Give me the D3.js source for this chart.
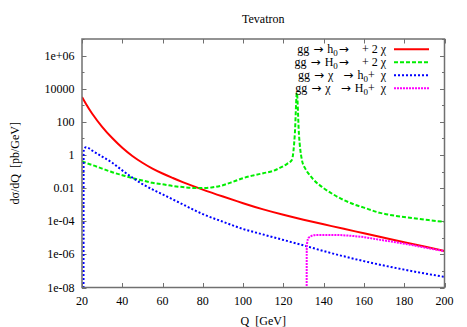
<!DOCTYPE html>
<html>
<head>
<meta charset="utf-8">
<script src="https://cdn.jsdelivr.net/npm/d3@7"></script>
<style>
  body { margin: 0; background: #fff; }
  svg { display: block; }
  text { font-family: "Liberation Serif", "Times New Roman", serif; font-size: 12px; fill: #000; white-space: pre; }
  .arr { font-family: "DejaVu Sans", sans-serif; font-size: 12px; }
</style>
</head>
<body>
<svg id="chart" width="467" height="327"></svg>
<script>
// ---------------- data ----------------
const title = "Tevatron";
const xLabel = "Q  [GeV]";
const yLabel = "dσ/dQ  [pb/GeV]";

const xTicks = [20, 40, 60, 80, 100, 120, 140, 160, 180, 200];
const yMajorTicks = [1e-8, 1e-6, 1e-4, 1e-2, 1, 1e2, 1e4, 1e6];
const yMajorLabels = ["1e-08", "1e-06", "1e-04", "0.01", "1", "100", "10000", "1e+06"];
const yMinorTicks = [1e-7, 1e-5, 1e-3, 1e-1, 1e1, 1e3, 1e5, 1e7];

// gg -> h0 -> + 2 chi
const redQ = [20, 22, 25, 30, 35, 40, 45, 50, 55, 60, 65, 70, 80, 90, 100, 110, 120, 130, 140, 150, 160, 170, 180, 190, 200];
const redV = [3.2e3, 1.2e3, 320, 50, 10.5, 2.7, 0.87, 0.34, 0.15, 0.076, 0.041, 0.023, 8.1e-3, 3.1e-3, 1.23e-3, 5.2e-4, 2.45e-4, 1.23e-4, 6.5e-5, 3.5e-5, 1.86e-5, 1.0e-5, 5.4e-6, 2.95e-6, 1.6e-6];

// gg -> H0 -> + 2 chi
const greenQ = [20, 22, 25, 30, 35, 40, 45, 50, 55, 60, 65, 70, 75, 80, 85, 90, 95, 100, 105, 110, 115, 118, 120, 122, 124.2, 125.7, 126.7, 127.7, 129.2, 131, 133, 135, 140, 145, 150, 155, 160, 168, 176, 184.5, 192, 200];
const greenV = [0.42, 0.33, 0.25, 0.15, 0.091, 0.060, 0.040, 0.029, 0.021, 0.017, 0.0135, 0.0115, 0.0102, 0.0100, 0.0112, 0.0150, 0.024, 0.040, 0.058, 0.079, 0.11, 0.16, 0.21, 0.30, 0.50, 20, 5500, 20, 0.50, 0.14, 0.063, 0.032, 0.010, 4.0e-3, 1.9e-3, 1.05e-3, 6.6e-4, 3.2e-4, 2.1e-4, 1.55e-4, 1.17e-4, 9.1e-5];

// gg -> chi -> h0 + chi
const blueQ = [20.75, 20.8, 21.3, 22, 23, 25, 30, 35, 40, 45, 50, 55, 60, 65, 70, 75, 80, 90, 100, 110, 120, 130, 140, 150, 160, 170, 180, 190, 200];
const blueV = [1e-9, 1.6, 2.5, 2.95, 2.7, 1.86, 0.8, 0.34, 0.117, 0.043, 0.0174, 8.3e-3, 4.2e-3, 2.1e-3, 1.05e-3, 5.2e-4, 2.7e-4, 9.3e-5, 3.4e-5, 1.58e-5, 7.4e-6, 3.5e-6, 1.58e-6, 7.6e-7, 3.9e-7, 2.1e-7, 1.2e-7, 7.1e-8, 4.4e-8];

// gg -> chi -> H0 + chi
const magQ = [131.55, 131.6, 131.8, 132.4, 134.1, 136.6, 143.2, 151.5, 159.7, 168, 176.3, 184.5, 192.8, 199.4];
const magV = [1e-9, 2.5e-6, 5.0e-6, 9.5e-6, 1.32e-5, 1.5e-5, 1.5e-5, 1.38e-5, 1.1e-5, 7.6e-6, 5.2e-6, 3.5e-6, 2.24e-6, 1.62e-6];

// legend pieces: "_x" = subscript, "→" drawn in an arrow font
const seriesNames = [
  ["gg ", "→", " h", "_0", "→", "    + 2 χ"],
  ["gg ", "→", " H", "_0", "→", "    + 2 χ"],
  ["gg ", "→", " χ   ", "→", " h", "_0", "+  χ"],
  ["gg ", "→", " χ   ", "→", " H", "_0", "+  χ"]
];
const seriesColors = ["#ff0000", "#00ee00", "#0000ff", "#ff00ff"];
const seriesDash = [null, "4,2", "2,2", "2,1"];

// ---------------- drawing ----------------
const svg = d3.select("#chart");
const L = 82, R = 444.5, T = 39, B = 287.5;

const x = d3.scaleLinear().domain([20, 200]).range([L, R]);
const y = d3.scaleLog().domain([1e-8, 1e7]).range([B, T]);

const axisColor = "#707070";

svg.append("defs").append("clipPath").attr("id", "clip")
  .append("rect").attr("x", L).attr("y", T).attr("width", R - L).attr("height", B - T);

// ticks (all four sides, inward)
const tickG = svg.append("g").attr("stroke", axisColor).attr("stroke-width", 1);
xTicks.forEach(t => {
  const px = Math.round(x(t)) + 0.5;
  tickG.append("line").attr("x1", px).attr("x2", px).attr("y1", B).attr("y2", B - 4.5);
  tickG.append("line").attr("x1", px).attr("x2", px).attr("y1", T).attr("y2", T + 4.5);
});
yMajorTicks.forEach(t => {
  const py = Math.round(y(t)) + 0.5;
  tickG.append("line").attr("x1", L).attr("x2", L + 4.5).attr("y1", py).attr("y2", py);
  tickG.append("line").attr("x1", R).attr("x2", R - 4.5).attr("y1", py).attr("y2", py);
});
yMinorTicks.forEach(t => {
  const py = Math.round(y(t)) + 0.5;
  tickG.append("line").attr("x1", L).attr("x2", L + 2.5).attr("y1", py).attr("y2", py);
  tickG.append("line").attr("x1", R).attr("x2", R - 2.5).attr("y1", py).attr("y2", py);
});

// tick labels
xTicks.forEach(t => {
  svg.append("text").attr("x", x(t)).attr("y", B + 17.5).attr("text-anchor", "middle").text(t);
});
yMajorTicks.forEach((t, i) => {
  svg.append("text").attr("x", L - 7.5).attr("y", y(t) + 4).attr("text-anchor", "end").text(yMajorLabels[i]);
});

// curves
const lineSmooth = d3.line().x(d => x(d[0])).y(d => y(d[1])).curve(d3.curveNatural);
const lineMono = d3.line().x(d => x(d[0])).y(d => y(d[1])).curve(d3.curveMonotoneX);
const allSeries = [
  d3.zip(redQ, redV),
  d3.zip(greenQ, greenV),
  d3.zip(blueQ, blueV),
  d3.zip(magQ, magV)
];
const plotG = svg.append("g").attr("clip-path", "url(#clip)");
allSeries.forEach((s, i) => {
  plotG.append("path").attr("d", (i === 0 ? lineSmooth : lineMono)(s))
    .attr("fill", "none")
    .attr("stroke", seriesColors[i])
    .attr("stroke-width", 2)
    .attr("stroke-dasharray", seriesDash[i]);
});

// frame
svg.append("rect").attr("x", L).attr("y", T).attr("width", R - L).attr("height", B - T)
  .attr("fill", "none").attr("stroke", axisColor).attr("stroke-width", 1.5);

// legend
const legY = [49.3, 62.3, 75.3, 88.3];
seriesNames.forEach((parts, i) => {
  const t = svg.append("text").attr("x", 386).attr("y", legY[i] + 4).attr("text-anchor", "end");
  let sub = false, afterArrow = false;
  parts.forEach(p => {
    let ts;
    if (p.startsWith("_")) {
      ts = t.append("tspan").attr("dy", 2.5).style("font-size", "9px").text(p.slice(1));
      sub = true;
    } else {
      ts = t.append("tspan").text(p);
      if (sub) { ts.attr("dy", -2.5); sub = false; }
      if (p === "→") ts.attr("class", "arr").attr("dx", 1);
    }
    if (afterArrow) ts.attr("dx", 1);
    afterArrow = (p === "→");
  });
  svg.append("line").attr("x1", 394).attr("x2", 429).attr("y1", legY[i]).attr("y2", legY[i])
    .attr("stroke", seriesColors[i]).attr("stroke-width", 2).attr("stroke-dasharray", seriesDash[i]);
});

// titles
svg.append("text").attr("x", (L + R) / 2).attr("y", 23).attr("text-anchor", "middle").text(title);
svg.append("text").attr("x", (L + R) / 2).attr("y", 325).attr("text-anchor", "middle").text(xLabel);
svg.append("text").attr("transform", `translate(19,${(T + B) / 2}) rotate(-90)`).attr("text-anchor", "middle").text(yLabel);
</script>
</body>
</html>
